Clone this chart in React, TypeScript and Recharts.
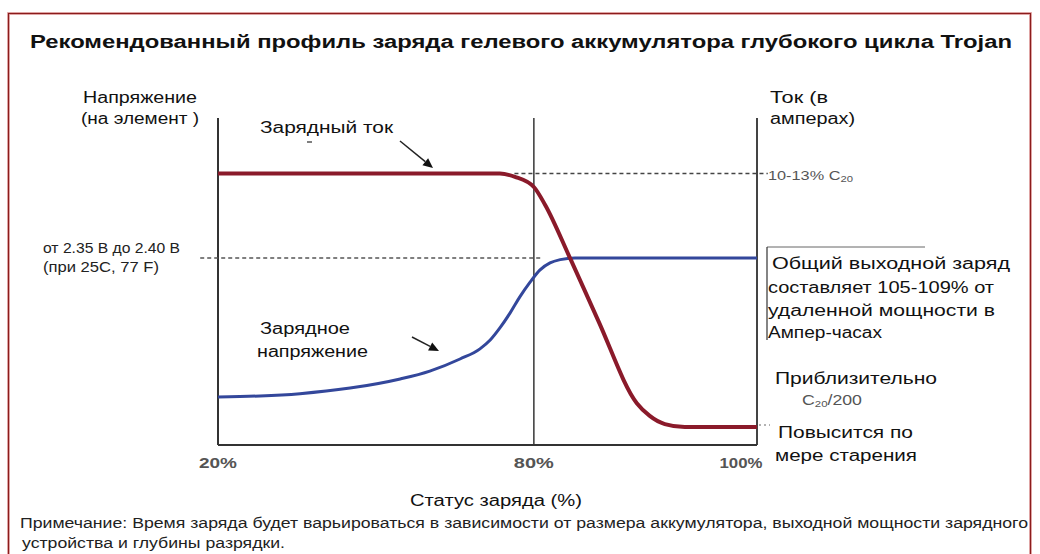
import React from "react";
import { LineChart, Line, XAxis, YAxis, ReferenceLine } from "recharts";

// x = schematic position along the state-of-charge axis (0 -> 20%, 100 -> 100%)
const socTicks = [0, 58.6, 100];
const socTickLabels = ["20%", "80%", "100%"];

// charging current (red), relative units 0..100
const currentX = [0, 52.3, 55.1, 58.6, 60.7, 65.3, 70.5, 77.7, 80.1, 82.9, 86.6, 100];
const currentY = [83, 83, 82, 78.9, 73.4, 57.2, 38.2, 12.8, 8.9, 6.4, 5.5, 5.5];

// charging voltage (blue), relative units 0..100
const voltageX = [0, 7.8, 15.2, 24.5, 33.8, 39.3, 44.9, 48.6, 50.5, 52.3, 54.2, 56, 57.9, 59.7, 61.6, 63.5, 66.2, 100];
const voltageY = [14.7, 15, 15.7, 17.4, 20.2, 22.6, 26.3, 29.4, 32.1, 35.8, 40.4, 45.3, 49.8, 53.5, 55.7, 56.7, 57.2, 57.2];

const currentLevel = 83;
const voltageLevel = 57.2;

const currentData = currentX.map((x, i) => ({ x, y: currentY[i] }));
const voltageData = voltageX.map((x, i) => ({ x, y: voltageY[i] }));

const SANS = "'Liberation Sans', Arial, sans-serif";
const NARROW = "'Liberation Sans Narrow', 'Arial Narrow', 'Liberation Sans', sans-serif";

function T({
  x,
  y,
  w,
  size = 16,
  fill = "#111",
  family = SANS,
  weight = "normal",
  children,
}: {
  x: number;
  y: number;
  w?: number;
  size?: number;
  fill?: string;
  family?: string;
  weight?: string | number;
  children: React.ReactNode;
}) {
  return (
    <text
      x={x}
      y={y}
      fontSize={size}
      fill={fill}
      fontFamily={family}
      fontWeight={weight}
      dominantBaseline="central"
      textLength={w}
      lengthAdjust={w ? "spacingAndGlyphs" : undefined}
    >
      {children}
    </text>
  );
}

function SocTick(props: any) {
  const { x, y, index } = props;
  const label = socTickLabels[index];
  const widths = [38, 40, 43];
  const shift = index === 2 ? -16 : 0;
  return (
    <text
      x={x + shift}
      y={y + 10}
      textAnchor="middle"
      dominantBaseline="central"
      fontSize={14}
      fontWeight={600}
      fill="#555"
      fontFamily={NARROW}
      textLength={widths[index]}
      lengthAdjust="spacingAndGlyphs"
    >
      {label}
    </text>
  );
}

function Arrow({ x1, y1, x2, y2 }: { x1: number; y1: number; x2: number; y2: number }) {
  const a = Math.atan2(y2 - y1, x2 - x1);
  const L = 10;
  const W = 4.5;
  const bx = x2 - L * Math.cos(a);
  const by = y2 - L * Math.sin(a);
  const p1 = `${bx + W * Math.sin(a)},${by - W * Math.cos(a)}`;
  const p2 = `${bx - W * Math.sin(a)},${by + W * Math.cos(a)}`;
  return (
    <g>
      <line x1={x1} y1={y1} x2={bx} y2={by} stroke="#222" strokeWidth={1.5} />
      <polygon points={`${x2},${y2} ${p1} ${p2}`} fill="#111" />
    </g>
  );
}

export default function App() {
  return (
    <div
      style={{
        position: "absolute",
        left: 0,
        top: 0,
        width: 1040,
        height: 554,
        background: "#fff",
        overflow: "hidden",
      }}
    >
      <LineChart
        width={1040}
        height={554}
        margin={{ top: 118, right: 283, bottom: 79, left: 218 }}
      >
        <XAxis
          type="number"
          dataKey="x"
          domain={[0, 100]}
          ticks={socTicks}
          tick={<SocTick />}
          tickLine={false}
          axisLine={{ stroke: "#333", strokeWidth: 2 }}
          allowDataOverflow
        />
        <YAxis type="number" domain={[0, 100]} hide allowDataOverflow />
        <ReferenceLine x={0} stroke="#333" strokeWidth={2} />
        <ReferenceLine x={58.6} stroke="#444" strokeWidth={1.6} />
        <ReferenceLine x={100} stroke="#444" strokeWidth={2} />
        <ReferenceLine
          segment={[
            { x: 55, y: currentLevel },
            { x: 102, y: currentLevel },
          ]}
          stroke="#444"
          strokeWidth={1.5}
          strokeDasharray="4 3"
          ifOverflow="visible"
        />
        <ReferenceLine
          segment={[
            { x: -3.3, y: voltageLevel },
            { x: 60, y: voltageLevel },
          ]}
          stroke="#555"
          strokeWidth={1.5}
          strokeDasharray="4 3"
          ifOverflow="visible"
        />
        <Line
          data={voltageData}
          dataKey="y"
          type="monotone"
          stroke="#33479b"
          strokeWidth={3}
          dot={false}
          isAnimationActive={false}
        />
        <Line
          data={currentData}
          dataKey="y"
          type="monotone"
          stroke="#8a1a2a"
          strokeWidth={4}
          dot={false}
          isAnimationActive={false}
        />
      </LineChart>

      <svg
        width={1040}
        height={554}
        style={{ position: "absolute", left: 0, top: 0, pointerEvents: "none" }}
      >
        <rect x={8.5} y={13.5} width={1022} height={560} fill="none" stroke="#e8b4b4" strokeWidth={3} />
        <rect x={8.5} y={13.5} width={1022} height={560} fill="none" stroke="#8b1c1c" strokeWidth={1.2} />

        <T x={30} y={42} w={982} size={18} weight="bold">
          Рекомендованный профиль заряда гелевого аккумулятора глубокого цикла Trojan
        </T>

        <T x={83} y={97} w={114} size={16}>Напряжение</T>
        <T x={81} y={118} w={118} size={16}>(на элемент )</T>

        <T x={260} y={127} w={133} size={16}>Зарядный ток</T>
        <line x1={307} y1={142} x2={312} y2={142} stroke="#555" strokeWidth={1.5} />
        <Arrow x1={400} y1={141} x2={433} y2={168} />

        <T x={770} y={97} w={58} size={16}>Ток (в</T>
        <T x={770} y={118} w={85} size={16}>амперах)</T>

        <text
          x={768}
          y={175}
          fontSize={13}
          fill="#555"
          fontFamily={NARROW}
          dominantBaseline="central"
          textLength={85}
          lengthAdjust="spacingAndGlyphs"
        >
          10-13% C
          <tspan fontSize={9} dy={4}>20</tspan>
        </text>

        <T x={43} y={248} w={137} size={14} family={NARROW} fill="#222">от 2.35 В до 2.40 В</T>
        <T x={43} y={267} w={116} size={14} family={NARROW} fill="#222">(при 25C, 77 F)</T>

        <line x1={767} y1={247} x2={925} y2={247} stroke="#666" strokeWidth={1} />
        <line x1={767} y1={247} x2={767} y2={340} stroke="#333" strokeWidth={1.2} />
        <T x={772} y={263} w={238} size={16}>Общий выходной заряд</T>
        <T x={768} y={287} w={226} size={16}>составляет 105-109% от</T>
        <T x={768} y={310} w={227} size={16}>удаленной мощности в</T>
        <T x={768} y={332} w={114} size={16}>Ампер-часах</T>

        <T x={775} y={378} w={162} size={16}>Приблизительно</T>
        <text
          x={802}
          y={400}
          fontSize={14}
          fill="#555"
          fontFamily={NARROW}
          dominantBaseline="central"
          textLength={60}
          lengthAdjust="spacingAndGlyphs"
        >
          C
          <tspan fontSize={9} dy={4}>20</tspan>
          <tspan dy={-4}>/200</tspan>
        </text>

        <line x1={759} y1={425} x2={770} y2={425} stroke="#666" strokeWidth={1} strokeDasharray="2 3" />
        <T x={778} y={432} w={135} size={16}>Повысится по</T>
        <T x={775} y={455} w={142} size={16}>мере старения</T>

        <T x={260} y={328} w={90} size={16}>Зарядное</T>
        <T x={257} y={351} w={111} size={16}>напряжение</T>
        <Arrow x1={412} y1={337} x2={439} y2={351} />

        <T x={410} y={500} w={172} size={16}>Статус заряда (%)</T>

        <T x={20} y={523} w={1008} size={14} family={NARROW} fill="#222">
          Примечание: Время заряда будет варьироваться в зависимости от размера аккумулятора, выходной мощности зарядного
        </T>
        <T x={22} y={543} w={263} size={14} family={NARROW} fill="#222">
          устройства и глубины разрядки.
        </T>
      </svg>
    </div>
  );
}
